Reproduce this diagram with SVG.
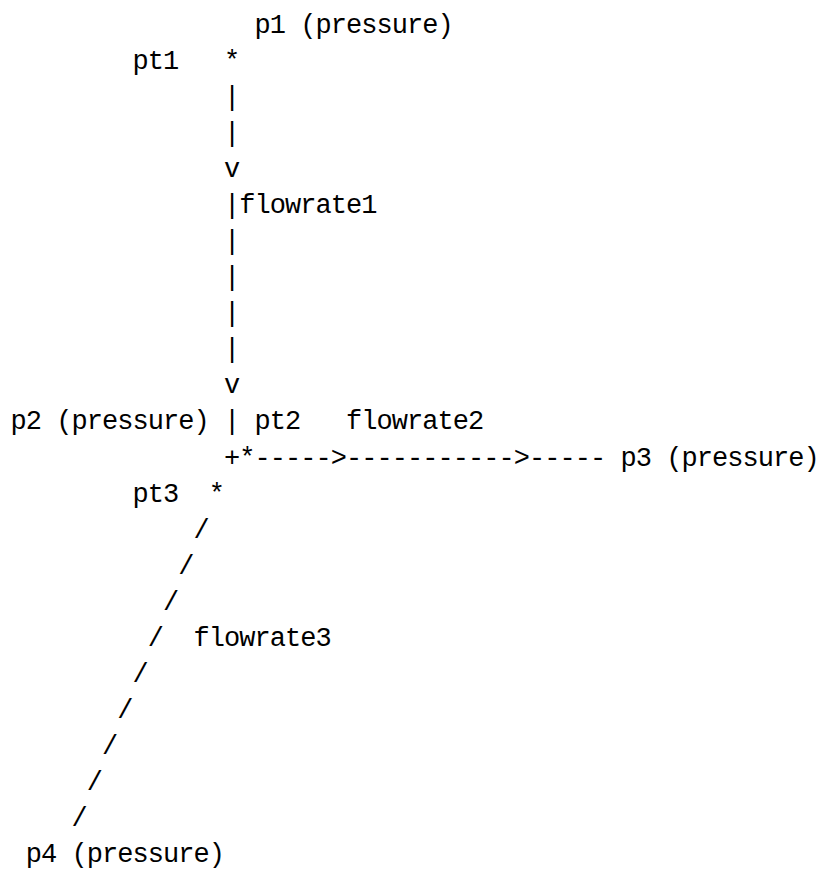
<svg xmlns="http://www.w3.org/2000/svg" width="821" height="870" viewBox="0 0 821 870">
<style>
text{font-family:"Liberation Mono","DejaVu Sans Mono",monospace;font-size:27px;letter-spacing:-0.95px;fill:#000;white-space:pre}
</style>
<rect width="821" height="870" fill="#fff"/>
<g id="nodes">
<g id="p1"><text x="254.5" y="33" xml:space="preserve">p1 (pressure)</text></g>
<g id="pt1"><text x="132.5" y="69" xml:space="preserve">pt1   *</text></g>
<g id="p2"><text x="10.5" y="429.4" xml:space="preserve">p2 (pressure)</text></g>
<g id="pt2"><text x="254.5" y="429.4">pt2</text><text x="239.25" y="465.5">*</text></g>
<g id="p3"><text x="620.5" y="465.5" xml:space="preserve">p3 (pressure)</text></g>
<g id="pt3"><text x="132.5" y="501.5" xml:space="preserve">pt3  *</text></g>
<g id="p4"><text x="25.75" y="861.9" xml:space="preserve">p4 (pressure)</text></g>
</g>
<g id="connectors">
<text x="224" y="105.1">|</text>
<text x="224" y="141.1">|</text>
<text x="224" y="177.2">v</text>
<text x="224" y="213.2">|</text>
<text x="224" y="249.2">|</text>
<text x="224" y="285.3">|</text>
<text x="224" y="321.3">|</text>
<text x="224" y="357.4">|</text>
<text x="224" y="393.4">v</text>
<text x="224" y="429.4">|</text>
<text x="224" y="465.5">+</text>
<text x="254.5" y="465.5">-----&gt;-----------&gt;-----</text>
<text x="193.5" y="537.6">/</text>
<text x="178.25" y="573.6">/</text>
<text x="163" y="609.6">/</text>
<text x="147.75" y="645.7">/</text>
<text x="132.5" y="681.7">/</text>
<text x="117.25" y="717.8">/</text>
<text x="102" y="753.8">/</text>
<text x="86.75" y="789.8">/</text>
<text x="71.5" y="825.9">/</text>
</g>
<g id="labels">
<text x="239.25" y="213.2">flowrate1</text>
<text x="346" y="429.4">flowrate2</text>
<text x="193.5" y="645.7">flowrate3</text>
</g>
</svg>
